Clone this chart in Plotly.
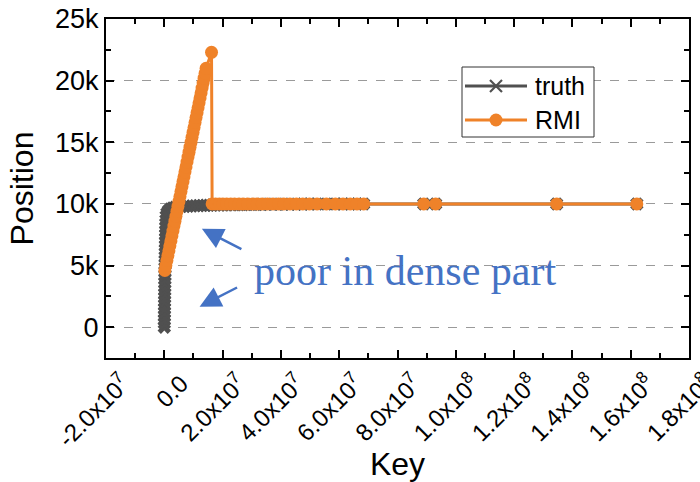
import plotly.graph_objects as go

# ---- data -------------------------------------------------------------
# truth: sorted keys (in millions) against their true position
truth_key_m = [
    0.00, 0.01, 0.02, 0.04, 0.05, 0.06, 0.08, 0.09, 0.11, 0.12,
    0.14, 0.15, 0.17, 0.19, 0.21, 0.23, 0.25, 0.27, 0.29, 0.31,
    0.33, 0.35, 0.37, 0.39, 0.41, 0.43, 0.45, 0.48, 0.52, 0.56,
    0.62, 0.90, 1.40, 2.00, 2.80, 3.70, 4.70, 5.80, 7.00, 8.20,
    9.40, 10.6, 11.8, 13.0, 14.2, 15.3,
    16.4, 17.6, 18.9, 20.1, 21.4, 22.8, 24.1, 25.6, 27.0, 28.6,
    30.3, 31.9, 33.6, 35.4, 37.3, 39.2, 41.0, 43.1, 45.3, 47.5,
    49.8, 52.4, 55.6, 58.7, 61.3, 63.8, 66.1, 68.4, 89.0, 93.1,
    134.6, 162.1,
]
truth_pos = [
    0, 300, 600, 900, 1200, 1500, 1800, 2100, 2400, 2700,
    3000, 3300, 3600, 3900, 4200, 4500, 4800, 5100, 5400, 5700,
    6000, 6300, 6600, 6900, 7200, 7500, 7800, 8100, 8400, 8700,
    9000, 9250, 9450, 9580, 9660, 9720, 9760, 9785, 9800, 9815,
    9830, 9845, 9860, 9870, 9880, 9890,
    9900, 9905, 9910, 9915, 9920, 9925, 9930, 9935, 9940, 9945,
    9950, 9955, 9960, 9965, 9970, 9972, 9975, 9978, 9980, 9983,
    9985, 9987, 9990, 9992, 9993, 9994, 9995, 9996, 9997, 9998,
    9999, 10000,
]

# RMI: predicted position for keys (in millions)
rmi_key_m = [
    0.20, 0.54, 0.89, 1.23, 1.58, 1.92, 2.27, 2.61, 2.96, 3.30,
    3.65, 3.99, 4.34, 4.68, 5.03, 5.37, 5.72, 6.06, 6.41, 6.75,
    7.10, 7.44, 7.79, 8.13, 8.48, 8.82, 9.17, 9.51, 9.86, 10.20,
    10.55, 10.89, 11.24, 11.58, 11.93, 12.27, 12.62, 12.96, 13.31, 13.65,
    14.00, 14.34, 16.2,
    16.4, 17.6, 18.9, 20.1, 21.4, 22.8, 24.1, 25.6, 27.0, 28.6,
    30.3, 31.9, 33.6, 35.4, 37.3, 39.2, 41.0, 43.1, 45.3, 47.5,
    49.8, 52.4, 55.6, 58.7, 61.3, 63.8, 66.1, 68.4, 89.0, 93.1,
    134.6, 162.1,
]
rmi_pos = [
    4600, 5000, 5400, 5800, 6200, 6600, 7000, 7400, 7800, 8200,
    8600, 9000, 9400, 9800, 10200, 10600, 11000, 11400, 11800, 12200,
    12600, 13000, 13400, 13800, 14200, 14600, 15000, 15400, 15800, 16200,
    16600, 17000, 17400, 17800, 18200, 18600, 19000, 19400, 19800, 20200,
    20600, 21000, 22300,
    10000, 10000, 10000, 10000, 10000, 10000, 10000, 10000, 10000, 10000,
    10000, 10000, 10000, 10000, 10000, 10000, 10000, 10000, 10000, 10000,
    10000, 10000, 10000, 10000, 10000, 10000, 10000, 10000, 10000, 10000,
    10000, 10000,
]

series_names = ["truth", "RMI"]

x_tick_vals = [-2e7, 0, 2e7, 4e7, 6e7, 8e7, 1e8, 1.2e8, 1.4e8, 1.6e8, 1.8e8]
x_tick_text = ["-2.0x10<sup>7</sup>", "0.0", "2.0x10<sup>7</sup>", "4.0x10<sup>7</sup>",
               "6.0x10<sup>7</sup>", "8.0x10<sup>7</sup>", "1.0x10<sup>8</sup>",
               "1.2x10<sup>8</sup>", "1.4x10<sup>8</sup>", "1.6x10<sup>8</sup>",
               "1.8x10<sup>8</sup>"]
y_tick_vals = [0, 5000, 10000, 15000, 20000, 25000]
y_tick_text = ["0", "5k", "10k", "15k", "20k", "25k"]

GRAY = "#505050"
ORANGE = "#EF8229"
BLUE = "#4472C4"
SANS = "Liberation Sans, Arial, sans-serif"
SERIF = "Liberation Serif, Times New Roman, serif"

W, H = 700, 482
M_L, M_R, M_T, M_B = 106, 11, 19, 124
PW, PH = W - M_L - M_R, H - M_T - M_B


def px_to_paper(px, py):
    return (px - M_L) / PW, (H - M_B - py) / PH


fig = go.Figure()

fig.add_trace(go.Scatter(
    x=[k * 1e6 for k in truth_key_m], y=truth_pos, name=series_names[0],
    mode="lines+markers", showlegend=False,
    line=dict(color=GRAY, width=3),
    marker=dict(symbol="x", size=12, color=GRAY, line=dict(width=0)),
))
fig.add_trace(go.Scatter(
    x=[k * 1e6 for k in rmi_key_m], y=rmi_pos, name=series_names[1],
    mode="lines+markers", showlegend=False,
    line=dict(color=ORANGE, width=3),
    marker=dict(symbol="circle", size=13, color=ORANGE, line=dict(width=0)),
))

axis_common = dict(
    showline=True, linecolor="black", linewidth=2, mirror="ticks",
    ticks="inside", ticklen=8, tickwidth=2, tickcolor="black",
    zeroline=False, automargin=False,
)

fig.update_xaxes(
    **axis_common,
    range=[-2e7, 1.8e8],
    tickmode="array", tickvals=x_tick_vals, ticktext=x_tick_text,
    tickangle=-45, ticklabelshift=17, ticklabeloverflow="allow",
    tickfont=dict(family=SANS, size=24, color="black"),
    showgrid=False,
    minor=dict(ticks="inside", ticklen=5, tickwidth=2, tickcolor="black",
               dtick=1e7, tick0=0, showgrid=False),
    title=dict(text="Key", font=dict(family=SANS, size=32, color="black"),
               standoff=2),
)
fig.update_yaxes(
    **axis_common,
    range=[-2500, 25000],
    tickmode="array", tickvals=y_tick_vals, ticktext=y_tick_text,
    tickfont=dict(family=SANS, size=27, color="black"),
    showgrid=True, gridcolor="#9a9a9a", gridwidth=1, griddash="dash",
    minor=dict(ticks="inside", ticklen=5, tickwidth=2, tickcolor="black",
               dtick=2500, tick0=0, showgrid=False),
    title=dict(text="Position", font=dict(family=SANS, size=32, color="black"),
               standoff=12),
)

# callout text and arrows into the dense region
fig.add_annotation(
    x=8.25e7, y=4550, text="poor in dense part", showarrow=False,
    font=dict(family=SERIF, size=42, color=BLUE),
    xanchor="center", yanchor="middle",
)
for head_x, head_y, dx, dy in [(1.29e7, 7980, 41, 21), (1.21e7, 1660, 39, -20)]:
    fig.add_annotation(
        x=head_x, y=head_y, ax=dx, ay=dy, axref="pixel", ayref="pixel",
        text="", showarrow=True, arrowhead=2, arrowsize=1.7,
        arrowwidth=2.5, arrowcolor=BLUE,
    )

# legend box with long line samples
shapes = []
bx0, by0 = px_to_paper(462, 137)
bx1, by1 = px_to_paper(594, 67)
shapes.append(dict(type="rect", xref="paper", yref="paper",
                   x0=bx0, y0=by0, x1=bx1, y1=by1,
                   line=dict(color="#333333", width=1), fillcolor="white",
                   layer="above"))
legend_rows = [(series_names[0], GRAY, 86), (series_names[1], ORANGE, 120)]
for name, color, row_y in legend_rows:
    lx0, ly = px_to_paper(465, row_y)
    lx1, _ = px_to_paper(527, row_y)
    shapes.append(dict(type="line", xref="paper", yref="paper",
                       x0=lx0, y0=ly, x1=lx1, y1=ly,
                       line=dict(color=color, width=3), layer="above"))
    mx, my = px_to_paper(496, row_y)
    if name == "truth":
        for sx in (-1, 1):
            shapes.append(dict(type="line", xref="paper", yref="paper",
                               xsizemode="pixel", ysizemode="pixel",
                               xanchor=mx, yanchor=my,
                               x0=-6, y0=-6 * sx, x1=6, y1=6 * sx,
                               line=dict(color=color, width=2.2), layer="above"))
    else:
        shapes.append(dict(type="circle", xref="paper", yref="paper",
                           xsizemode="pixel", ysizemode="pixel",
                           xanchor=mx, yanchor=my,
                           x0=-6.5, y0=-6.5, x1=6.5, y1=6.5,
                           line=dict(width=0), fillcolor=color, layer="above"))
    tx, ty = px_to_paper(533, row_y)
    fig.add_annotation(xref="paper", yref="paper", x=tx, y=ty, text=name,
                       showarrow=False, xanchor="left", yanchor="middle",
                       font=dict(family=SANS, size=25, color="black"))

fig.update_layout(
    width=W, height=H,
    margin=dict(l=M_L, r=M_R, t=M_T, b=M_B),
    paper_bgcolor="white", plot_bgcolor="white",
    font=dict(family=SANS, color="black"),
    shapes=shapes,
    showlegend=False,
)

fig.write_html("out.html")
